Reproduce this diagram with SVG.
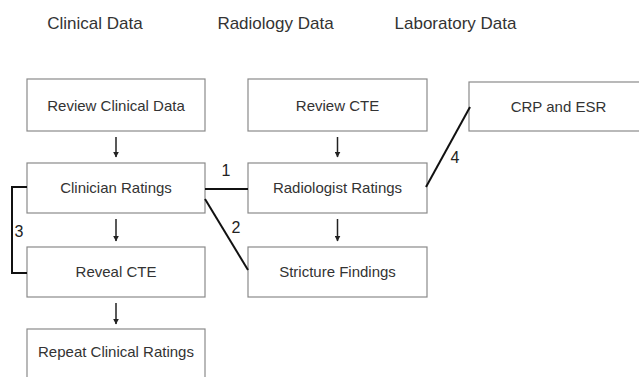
<svg xmlns="http://www.w3.org/2000/svg" width="639" height="377" viewBox="0 0 639 377">
  <defs>
    <marker id="head" viewBox="0 0 10 10" refX="9" refY="5" markerWidth="6" markerHeight="6" markerUnits="userSpaceOnUse" orient="auto">
      <path d="M0,0 L10,5 L0,10 z" fill="#222"/>
    </marker>
    <style>
      .box { fill: #fff; stroke: #8a8a8a; stroke-width: 1.2; }
      .label { font-family: "Liberation Sans", Arial, sans-serif; font-size: 15px; fill: #333; text-anchor: middle; }
      .title { font-family: "Liberation Sans", Arial, sans-serif; font-size: 17px; fill: #333; text-anchor: middle; }
      .num { font-family: "Liberation Sans", Arial, sans-serif; font-size: 16px; fill: #222; text-anchor: middle; }
      .link { fill: none; stroke: #111; stroke-width: 2; }
      .step { fill: none; stroke: #222; stroke-width: 1.5; marker-end: url(#head); }
    </style>
  </defs>
  <rect width="639" height="377" fill="#fff"/>

  <!-- column headings -->
  <g id="headings">
    <text class="title" x="95" y="29">Clinical Data</text>
    <text class="title" x="275.5" y="29">Radiology Data</text>
    <text class="title" x="455.5" y="29">Laboratory Data</text>
  </g>

  <!-- clinical column -->
  <g id="review-clinical">
    <rect class="box" x="27" y="79" width="178" height="52"/>
    <text class="label" x="116" y="110.5">Review Clinical Data</text>
  </g>
  <g id="clinician-ratings">
    <rect class="box" x="27" y="163" width="178" height="50"/>
    <text class="label" x="116" y="193">Clinician Ratings</text>
  </g>
  <g id="reveal-cte">
    <rect class="box" x="27" y="247" width="178" height="50"/>
    <text class="label" x="116" y="277">Reveal CTE</text>
  </g>
  <g id="repeat-ratings">
    <rect class="box" x="27" y="329" width="178" height="60"/>
    <text class="label" x="116" y="357">Repeat Clinical Ratings</text>
  </g>

  <!-- radiology column -->
  <g id="review-cte">
    <rect class="box" x="248" y="79" width="179" height="52"/>
    <text class="label" x="337.5" y="110.5">Review CTE</text>
  </g>
  <g id="radiologist-ratings">
    <rect class="box" x="248" y="163" width="179" height="50"/>
    <text class="label" x="337.5" y="193">Radiologist Ratings</text>
  </g>
  <g id="stricture-findings">
    <rect class="box" x="248" y="247" width="179" height="50"/>
    <text class="label" x="337.5" y="277">Stricture Findings</text>
  </g>

  <!-- laboratory column -->
  <g id="crp-esr">
    <rect class="box" x="469" y="82" width="190" height="49"/>
    <text class="label" x="558.5" y="111.5">CRP and ESR</text>
  </g>

  <!-- connectors -->
  <g id="connectors">
    <line class="step" x1="116" y1="137" x2="116" y2="157"/>
    <line class="step" x1="116" y1="219" x2="116" y2="241"/>
    <line class="step" x1="116" y1="303" x2="116" y2="324"/>
    <line class="step" x1="337.5" y1="137" x2="337.5" y2="157"/>
    <line class="step" x1="337.5" y1="219" x2="337.5" y2="241"/>

    <line class="link" x1="205" y1="189" x2="248" y2="189"/>
    <line class="link" x1="205" y1="199" x2="248" y2="270"/>
    <polyline class="link" points="27,187 12,187 12,273 27,273"/>
    <line class="link" x1="426" y1="187" x2="470" y2="107"/>

    <text class="num" x="226" y="176">1</text>
    <text class="num" x="236" y="233">2</text>
    <text class="num" x="19" y="237">3</text>
    <text class="num" x="455" y="163">4</text>
  </g>
</svg>
